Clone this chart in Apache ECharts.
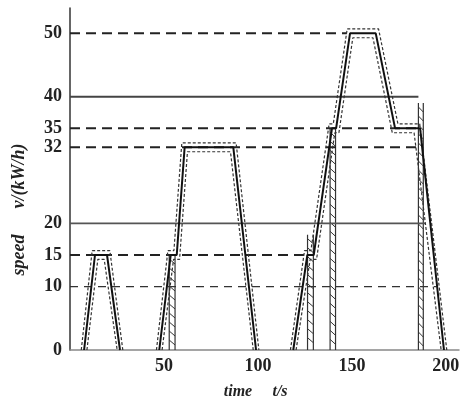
<!DOCTYPE html>
<html>
<head>
<meta charset="utf-8">
<script src="https://cdn.jsdelivr.net/npm/echarts@6/dist/echarts.min.js"></script>
<style>html,body{margin:0;padding:0;background:#fff;}#c{width:461px;height:402px;}</style>
</head>
<body>
<div id="c"></div>
<script>
// ---- data ----
var yTickValues = [0, 10, 15, 20, 32, 35, 40, 50];
var xTickValues = [50, 100, 150, 200];

// reference speed lines: value and where each line stops (time, s)
var refSpeeds = [50, 40, 35, 32, 20, 15, 10];
var refEnds   = [147.3, 185.4, 184.5, 185.2, 188.9, 126.0, 195.2];

// driving cycle (time s, speed)
var cycleTime  = [7.5, 13.3, 19.7, 26.6, 47.5, 53.6, 56.8, 61.0, 86.9, 99.0, 118.8, 126.3, 129.7, 139.4, 141.6, 149.0, 162.7, 173.0, 184.6, 186.3, 199.0];
var cycleSpeed = [0, 15, 15, 0, 0, 15, 15, 32, 32, 0, 0, 15, 15, 35, 35, 50, 50, 35, 35, 35, 0];

// tolerance band, upper (outer) edge
var upperTime  = [6.0, 11.8, 21.2, 28.1, 46.0, 52.1, 55.3, 59.5, 88.4, 100.5, 117.3, 124.8, 128.2, 137.9, 140.1, 147.5, 164.2, 174.5, 186.1, 200.5];
var upperSpeed = [0, 15.7, 15.7, 0, 0, 15.7, 15.7, 32.7, 32.7, 0, 0, 15.7, 15.7, 35.7, 35.7, 50.7, 50.7, 35.7, 35.7, 0];
// tolerance band, lower (inner) edge
var lowerTime  = [9.0, 14.8, 18.2, 25.1, 49.0, 55.1, 58.3, 62.5, 85.4, 97.5, 120.3, 127.8, 131.2, 140.9, 143.1, 150.5, 161.2, 171.5, 183.1, 197.5];
var lowerSpeed = [0, 14.3, 14.3, 0, 0, 14.3, 14.3, 31.3, 31.3, 0, 0, 14.3, 14.3, 34.3, 34.3, 49.3, 49.3, 34.3, 34.3, 0];

// hatched gear-change bars
var hatchStart = [52.8, 126.4, 138.4, 185.4];
var hatchEnd   = [55.9, 129.5, 141.3, 188.0];
var hatchTop   = [15, 18.2, 35, 39.0];

// ---- build chart ----
function segments(ts, vs, groups) {
  var out = [], cur = [];
  for (var i = 0; i < ts.length; i++) {
    cur.push([ts[i], vs[i]]);
    if (groups.indexOf(i) >= 0) { out.push(cur); cur = []; }
  }
  if (cur.length) out.push(cur);
  return out;
}

var series = [];
var refStyles = {
  50: {type: [10, 6], width: 2, color: '#222'},
  40: {type: 'solid', width: 2, color: '#444'},
  35: {type: [10, 6], width: 2, color: '#222'},
  32: {type: [10, 6], width: 2, color: '#222'},
  20: {type: 'solid', width: 1.6, color: '#555'},
  15: {type: [10, 6], width: 2, color: '#222'},
  10: {type: [8, 6], width: 1.2, color: '#333'}
};
refSpeeds.forEach(function (v, i) {
  var st = refStyles[v];
  series.push({
    type: 'line', silent: true, symbol: 'none', animation: false,
    data: [[0, v], [refEnds[i], v]],
    lineStyle: {color: st.color, width: st.width, type: st.type}
  });
});

var humps = [3, 9];
segments(upperTime, upperSpeed, humps).forEach(function (seg) {
  series.push({type: 'line', symbol: 'none', animation: false, silent: true, data: seg,
    lineStyle: {color: '#333', width: 1.2, type: [3, 2]}});
});
segments(lowerTime, lowerSpeed, humps).forEach(function (seg) {
  series.push({type: 'line', symbol: 'none', animation: false, silent: true, data: seg,
    lineStyle: {color: '#333', width: 1.2, type: [3, 2]}});
});
segments(cycleTime, cycleSpeed, humps).forEach(function (seg) {
  series.push({type: 'line', symbol: 'none', animation: false, silent: true, data: seg,
    lineStyle: {color: '#111', width: 2}});
});

var hatchData = hatchStart.map(function (s, i) { return [s, hatchEnd[i], hatchTop[i]]; });
series.push({
  type: 'custom', animation: false, silent: true,
  encode: {x: [0, 1], y: 2},
  data: hatchData,
  renderItem: function (params, api) {
    var a = api.coord([api.value(0), api.value(2)]);
    var b = api.coord([api.value(1), 0]);
    var st = {stroke: '#333', lineWidth: 1.2};
    var ch = [
      {type: 'line', shape: {x1: a[0], y1: a[1], x2: a[0], y2: b[1]}, style: st},
      {type: 'line', shape: {x1: b[0], y1: a[1], x2: b[0], y2: b[1]}, style: st}
    ];
    for (var y = a[1] + 4; y < b[1] - 5; y += 9) {
      ch.push({type: 'line', shape: {x1: a[0], y1: y, x2: b[0], y2: y + 5}, style: {stroke: '#333', lineWidth: 1}});
    }
    return {type: 'group', children: ch};
  }
});

var chart = echarts.init(document.getElementById('c'), null, {renderer: 'canvas'});
chart.setOption({
  backgroundColor: '#fff',
  animation: false,
  grid: {left: 70, right: 2, top: 8, bottom: 52, containLabel: false, outerBoundsMode: 'none'},
  xAxis: {
    type: 'value', min: 0, max: 207,
    axisLine: {show: true, lineStyle: {color: '#888', width: 1.5}},
    axisTick: {show: false},
    splitLine: {show: false},
    axisLabel: {customValues: xTickValues, margin: 7, color: '#222',
      fontFamily: 'Liberation Serif', fontWeight: 'bold', fontSize: 18}
  },
  yAxis: {
    type: 'value', min: 0, max: 54,
    axisLine: {show: true, lineStyle: {color: '#333', width: 1.5}},
    axisTick: {show: false},
    splitLine: {show: false},
    axisLabel: {customValues: yTickValues, margin: 8, color: '#222',
      fontFamily: 'Liberation Serif', fontWeight: 'bold', fontSize: 18}
  },
  graphic: [
    {type: 'text', x: 238, y: 392, style: {text: 'time', fill: '#222', align: 'center', verticalAlign: 'middle',
      font: 'italic bold 16px "Liberation Serif"'}},
    {type: 'text', x: 280, y: 392, style: {text: 't/s', fill: '#222', align: 'center', verticalAlign: 'middle',
      font: 'italic bold 16px "Liberation Serif"'}},
    {type: 'text', x: 19, y: 255, rotation: Math.PI / 2, style: {text: 'speed', fill: '#222', align: 'center', verticalAlign: 'middle',
      font: 'italic bold 18px "Liberation Serif"'}},
    {type: 'text', x: 19, y: 176, rotation: Math.PI / 2, style: {text: 'v/(kW/h)', fill: '#222', align: 'center', verticalAlign: 'middle',
      font: 'italic bold 18px "Liberation Serif"'}}
  ],
  series: series
});
</script>
</body>
</html>
